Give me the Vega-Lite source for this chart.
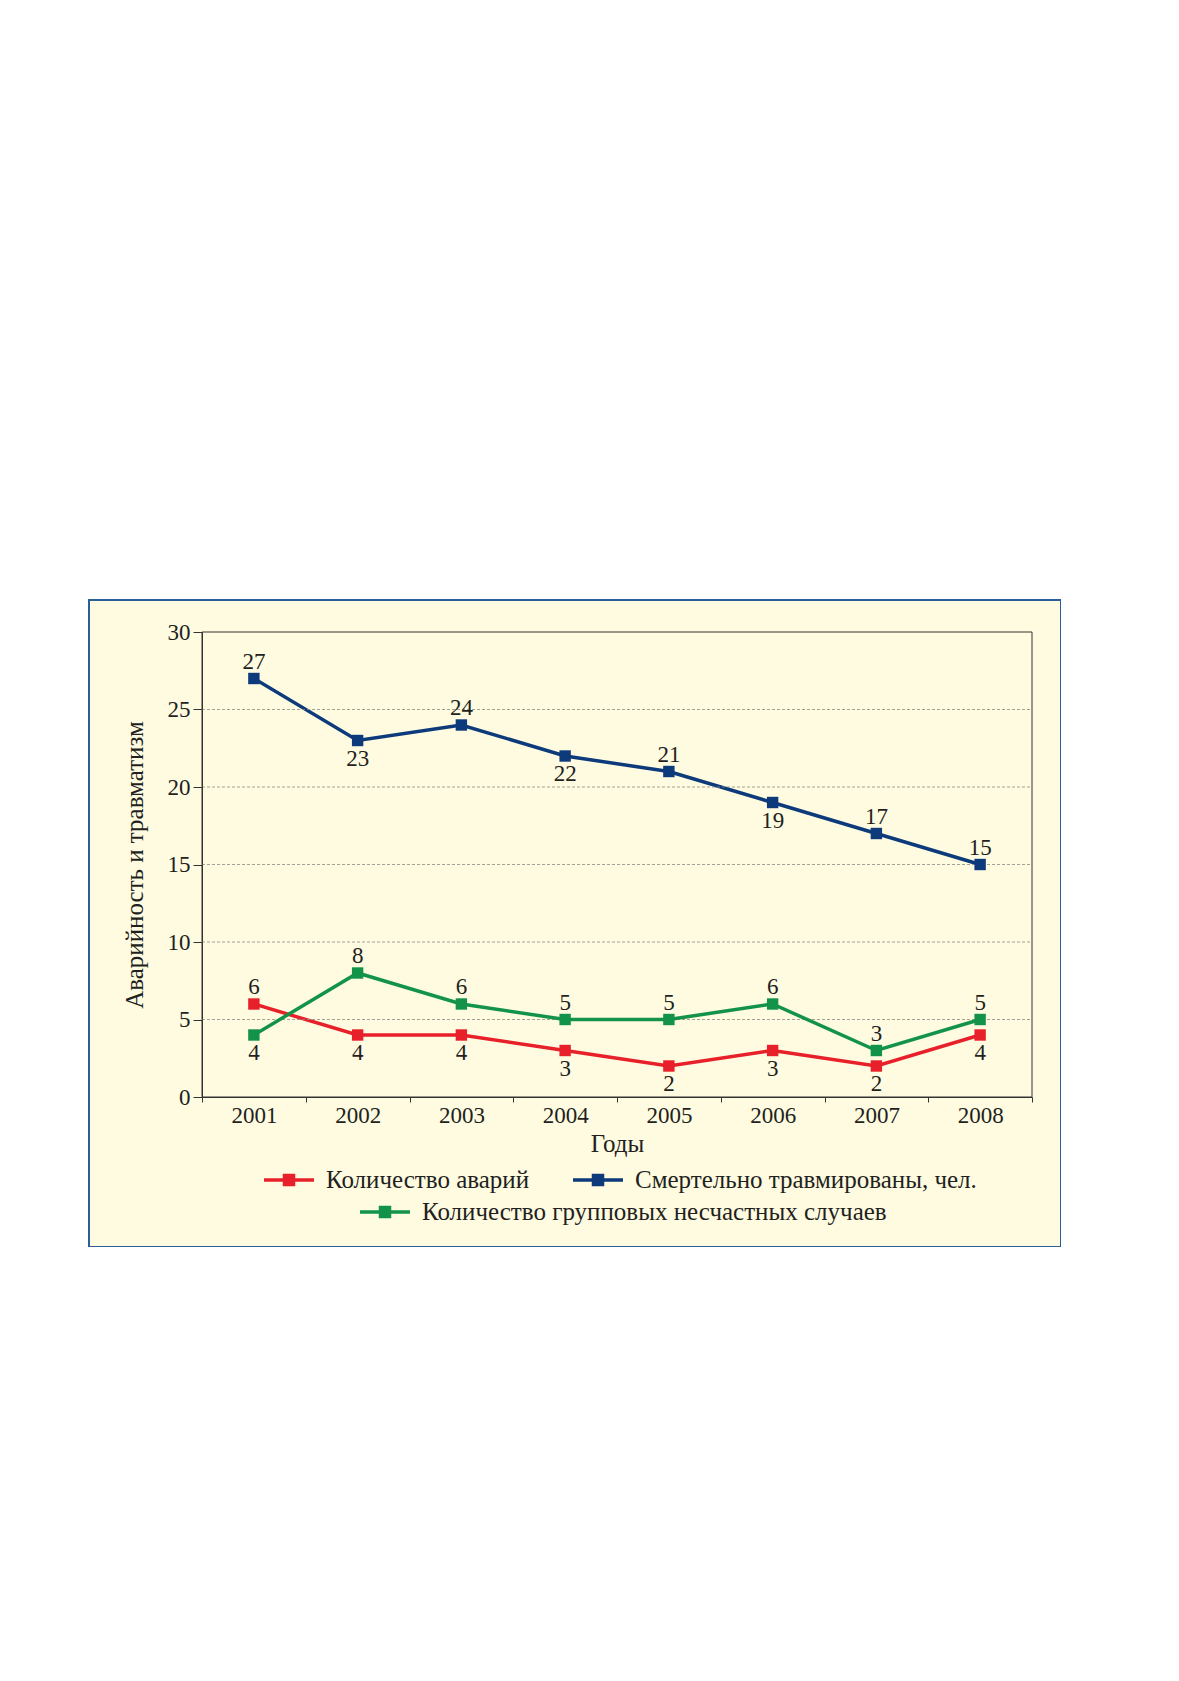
{
  "$schema": "https://vega.github.io/schema/vega-lite/v6.json",
  "width": 972,
  "height": 647,
  "autosize": {"type": "none"},
  "padding": {"left": 89, "top": 600, "right": 0, "bottom": 0},
  "background": "white",
  "view": {"fill": "#fefbe1", "stroke": "#2b5d9b", "strokeWidth": 2},
  "config": {
    "font": "Liberation Serif",
    "axis": {
      "labelFont": "Liberation Serif",
      "labelFontSize": 23,
      "labelColor": "#231f20",
      "titleFont": "Liberation Serif",
      "titleFontSize": 25,
      "titleFontWeight": "normal",
      "titleColor": "#231f20",
      "domainColor": "#333333",
      "tickColor": "#333333",
      "grid": false
    },
    "legend": {
      "labelFont": "Liberation Serif",
      "labelFontSize": 25,
      "labelColor": "#231f20",
      "labelLimit": 700
    }
  },
  "datasets": {
    "main": [
      {"year": 2001, "series": "Количество аварий", "value": 6},
      {"year": 2002, "series": "Количество аварий", "value": 4},
      {"year": 2003, "series": "Количество аварий", "value": 4},
      {"year": 2004, "series": "Количество аварий", "value": 3},
      {"year": 2005, "series": "Количество аварий", "value": 2},
      {"year": 2006, "series": "Количество аварий", "value": 3},
      {"year": 2007, "series": "Количество аварий", "value": 2},
      {"year": 2008, "series": "Количество аварий", "value": 4},
      {"year": 2001, "series": "Смертельно травмированы, чел.", "value": 27},
      {"year": 2002, "series": "Смертельно травмированы, чел.", "value": 23},
      {"year": 2003, "series": "Смертельно травмированы, чел.", "value": 24},
      {"year": 2004, "series": "Смертельно травмированы, чел.", "value": 22},
      {"year": 2005, "series": "Смертельно травмированы, чел.", "value": 21},
      {"year": 2006, "series": "Смертельно травмированы, чел.", "value": 19},
      {"year": 2007, "series": "Смертельно травмированы, чел.", "value": 17},
      {"year": 2008, "series": "Смертельно травмированы, чел.", "value": 15},
      {"year": 2001, "series": "Количество групповых несчастных случаев", "value": 4},
      {"year": 2002, "series": "Количество групповых несчастных случаев", "value": 8},
      {"year": 2003, "series": "Количество групповых несчастных случаев", "value": 6},
      {"year": 2004, "series": "Количество групповых несчастных случаев", "value": 5},
      {"year": 2005, "series": "Количество групповых несчастных случаев", "value": 5},
      {"year": 2006, "series": "Количество групповых несчастных случаев", "value": 6},
      {"year": 2007, "series": "Количество групповых несчастных случаев", "value": 3},
      {"year": 2008, "series": "Количество групповых несчастных случаев", "value": 5}
    ],
    "grid": [{"g": 5}, {"g": 10}, {"g": 15}, {"g": 20}, {"g": 25}]
  },
  "layer": [
    {
      "data": {"name": "main"},
      "transform": [{"filter": "datum.series !== 'Количество групповых несчастных случаев'"}],
      "mark": {"type": "line", "strokeWidth": 3.5},
      "encoding": {
        "x": {
          "field": "year", "type": "quantitative",
          "scale": {"domain": [2000.5, 2008.5], "range": [113, 943], "nice": false, "zero": false},
          "axis": {
            "title": "Годы",
            "values": [2000.5, 2001.5, 2002.5, 2003.5, 2004.5, 2005.5, 2006.5, 2007.5, 2008.5],
            "labelExpr": "datum.value < 2008 ? '' + (datum.value + 0.5) : ''",
            "labelOffset": 52,
            "labelFlush": false,
            "labelBound": false,
            "labelOverlap": false,
            "offset": -150,
            "tickSize": 5,
            "labelPadding": 2,
            "titlePadding": 4
          }
        },
        "y": {
          "field": "value", "type": "quantitative",
          "scale": {"domain": [0, 30], "range": [497, 32], "nice": false},
          "axis": {
            "title": "Аварийность и травматизм",
            "values": [0, 5, 10, 15, 20, 25, 30],
            "offset": -113,
            "tickSize": 9,
            "labelPadding": 3,
            "titlePadding": 20
          }
        },
        "color": {
          "field": "series", "type": "nominal",
          "scale": {"domain": ["Количество аварий", "Смертельно травмированы, чел."], "range": ["#e8202a", "#0d3a7a"]},
          "legend": {
            "title": null,
            "orient": "none",
            "direction": "horizontal",
            "legendX": 173,
            "legendY": 553,
            "symbolType": "M-1,0H1M-0.18,-0.18H0.18V0.18H-0.18Z",
            "symbolSize": 2500,
            "symbolStrokeWidth": 3.5,
            "labelOffset": 10,
            "columnPadding": 36,
            "encode": {"symbols": {"update": {"fill": {"scale": "color", "field": "value"}, "stroke": {"scale": "color", "field": "value"}}}}
          }
        }
      }
    },
    {
      "data": {"name": "grid"},
      "mark": {"type": "rule", "color": "#8a8a80", "strokeWidth": 0.8, "strokeDash": [3, 2]},
      "encoding": {
        "y": {"field": "g", "type": "quantitative"},
        "x": {"datum": 2000.5, "type": "quantitative"},
        "x2": {"datum": 2008.5}
      }
    },
    {
      "data": {"name": "grid"},
      "transform": [{"filter": "datum.g === 5"}],
      "mark": {"type": "rect", "filled": false, "color": "#333333", "strokeWidth": 1},
      "encoding": {
        "x": {"datum": 2000.5, "type": "quantitative"},
        "x2": {"datum": 2008.5},
        "y": {"datum": 0, "type": "quantitative"},
        "y2": {"datum": 30}
      }
    },
    {
      "data": {"name": "main"},
      "transform": [{"filter": "datum.series === 'Количество групповых несчастных случаев'"}],
      "mark": {"type": "line", "strokeWidth": 3.5},
      "encoding": {
        "x": {"field": "year", "type": "quantitative"},
        "y": {"field": "value", "type": "quantitative"},
        "stroke": {
          "field": "series", "type": "nominal",
          "scale": {"domain": ["Количество групповых несчастных случаев"], "range": ["#13934a"]},
          "legend": {
            "title": null,
            "orient": "none",
            "legendX": 269,
            "legendY": 585,
            "symbolType": "M-1,0H1M-0.18,-0.18H0.18V0.18H-0.18Z",
            "symbolSize": 2500,
            "symbolStrokeWidth": 3.5,
            "labelOffset": 10,
            "encode": {"symbols": {"update": {"fill": {"value": "#13934a"}, "stroke": {"value": "#13934a"}}}}
          }
        }
      }
    },
    {
      "data": {"name": "main"},
      "transform": [{"filter": "datum.series !== 'Количество групповых несчастных случаев'"}],
      "mark": {"type": "point", "shape": "square", "filled": true, "size": 130, "opacity": 1},
      "encoding": {
        "x": {"field": "year", "type": "quantitative"},
        "y": {"field": "value", "type": "quantitative"},
        "color": {"field": "series", "type": "nominal"}
      }
    },
    {
      "data": {"name": "main"},
      "transform": [{"filter": "datum.series === 'Количество групповых несчастных случаев'"}],
      "mark": {"type": "point", "shape": "square", "filled": true, "size": 130, "opacity": 1, "color": "#13934a"},
      "encoding": {
        "x": {"field": "year", "type": "quantitative"},
        "y": {"field": "value", "type": "quantitative"}
      }
    },
    {
      "data": {"name": "main"},
      "transform": [{"filter": "!((datum.series === 'Количество аварий' && datum.year !== 2001) || (datum.series === 'Смертельно травмированы, чел.' && (datum.year === 2002 || datum.year === 2004 || datum.year === 2006)) || (datum.series === 'Количество групповых несчастных случаев' && datum.year === 2001))"}],
      "mark": {"type": "text", "dy": -17, "fontSize": 23, "color": "#231f20", "baseline": "middle"},
      "encoding": {
        "x": {"field": "year", "type": "quantitative"},
        "y": {"field": "value", "type": "quantitative"},
        "text": {"field": "value", "type": "quantitative"}
      }
    },
    {
      "data": {"name": "main"},
      "transform": [{"filter": "(datum.series === 'Количество аварий' && datum.year !== 2001) || (datum.series === 'Смертельно травмированы, чел.' && (datum.year === 2002 || datum.year === 2004 || datum.year === 2006)) || (datum.series === 'Количество групповых несчастных случаев' && datum.year === 2001)"}],
      "mark": {"type": "text", "dy": 18, "fontSize": 23, "color": "#231f20", "baseline": "middle"},
      "encoding": {
        "x": {"field": "year", "type": "quantitative"},
        "y": {"field": "value", "type": "quantitative"},
        "text": {"field": "value", "type": "quantitative"}
      }
    }
  ]
}
